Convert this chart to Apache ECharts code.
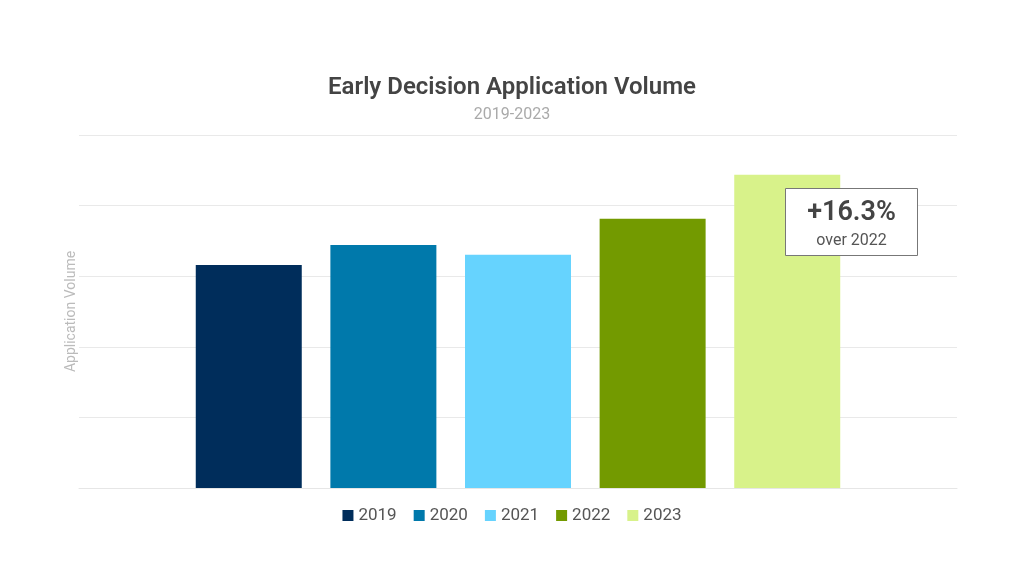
<!DOCTYPE html>
<html>
<head>
<meta charset="utf-8">
<script src="https://cdn.jsdelivr.net/npm/echarts@6/dist/echarts.min.js"></script>
<style>
  html, body { margin: 0; padding: 0; background: #fff; }
  #chart { width: 1024px; height: 576px; }
</style>
</head>
<body>
<div id="chart"></div>
<script>
var years = ['2019', '2020', '2021', '2022', '2023'];
var volumes = [1579, 1721, 1652, 1907, 2218];
var barColors = ['#002d5b', '#0079ab', '#66d3fe', '#739a00', '#d8f28a'];
var yTicks = [0, 500, 1000, 1500, 2000, 2500];

var chart = echarts.init(document.getElementById('chart'));

// % change of last year over the one before
var last = volumes.length - 1;
var change = (volumes[last] - volumes[last - 1]) / volumes[last - 1] * 100;

var series = [];
for (var i = 0; i < years.length; i++) {
  series.push({
    name: years[i],
    type: 'bar',
    barWidth: 106,
    barGap: '27%',
    itemStyle: { color: barColors[i] },
    data: [volumes[i]]
  });
}

var option = {
  backgroundColor: '#fff',
  textStyle: { fontFamily: 'Roboto' },
  title: {
    text: 'Early Decision Application Volume',
    subtext: '2019-2023',
    left: 'center',
    top: 71,
    itemGap: 7,
    textStyle: { fontSize: 24, fontWeight: 600, color: '#444', fontFamily: 'Roboto' },
    subtextStyle: { fontSize: 16, color: '#aaa', fontFamily: 'Roboto' }
  },
  legend: {
    bottom: 47,
    left: 'center',
    itemWidth: 11,
    itemHeight: 11,
    itemGap: 17,
    icon: 'rect',
    textStyle: { fontSize: 17, color: '#555', fontFamily: 'Roboto' },
    data: years
  },
  grid: { left: 79, right: 67, top: 135, bottom: 88 },
  xAxis: {
    type: 'category',
    data: [''],
    axisLine: { lineStyle: { color: '#e6e6e6' } },
    axisTick: { show: false },
    axisLabel: { show: false }
  },
  yAxis: {
    type: 'value',
    min: yTicks[0],
    max: yTicks[yTicks.length - 1],
    interval: yTicks[1] - yTicks[0],
    name: 'Application Volume',
    nameLocation: 'middle',
    nameGap: 1,
    nameTextStyle: { color: '#bbb', fontSize: 14 },
    axisLabel: { show: false },
    axisLine: { show: false },
    axisTick: { show: false },
    splitLine: { lineStyle: { color: '#e9e9e9' } }
  },
  series: series,
  graphic: [{
    type: 'group',
    left: 785,
    top: 188,
    children: [{
      type: 'rect',
      z: 100,
      shape: { x: 0, y: 0, width: 132, height: 67 },
      style: { fill: '#fff', stroke: '#777', lineWidth: 1 }
    }, {
      type: 'text',
      z: 101,
      x: 66, y: 11,
      style: {
        text: '+' + change.toFixed(1) + '%',
        textAlign: 'center',
        fill: '#444',
        font: '600 27px Roboto'
      }
    }, {
      type: 'text',
      z: 101,
      x: 66, y: 44,
      style: {
        text: 'over ' + years[last - 1],
        textAlign: 'center',
        fill: '#555',
        font: '16px Roboto'
      }
    }]
  }]
};

chart.setOption(option);
</script>
</body>
</html>
